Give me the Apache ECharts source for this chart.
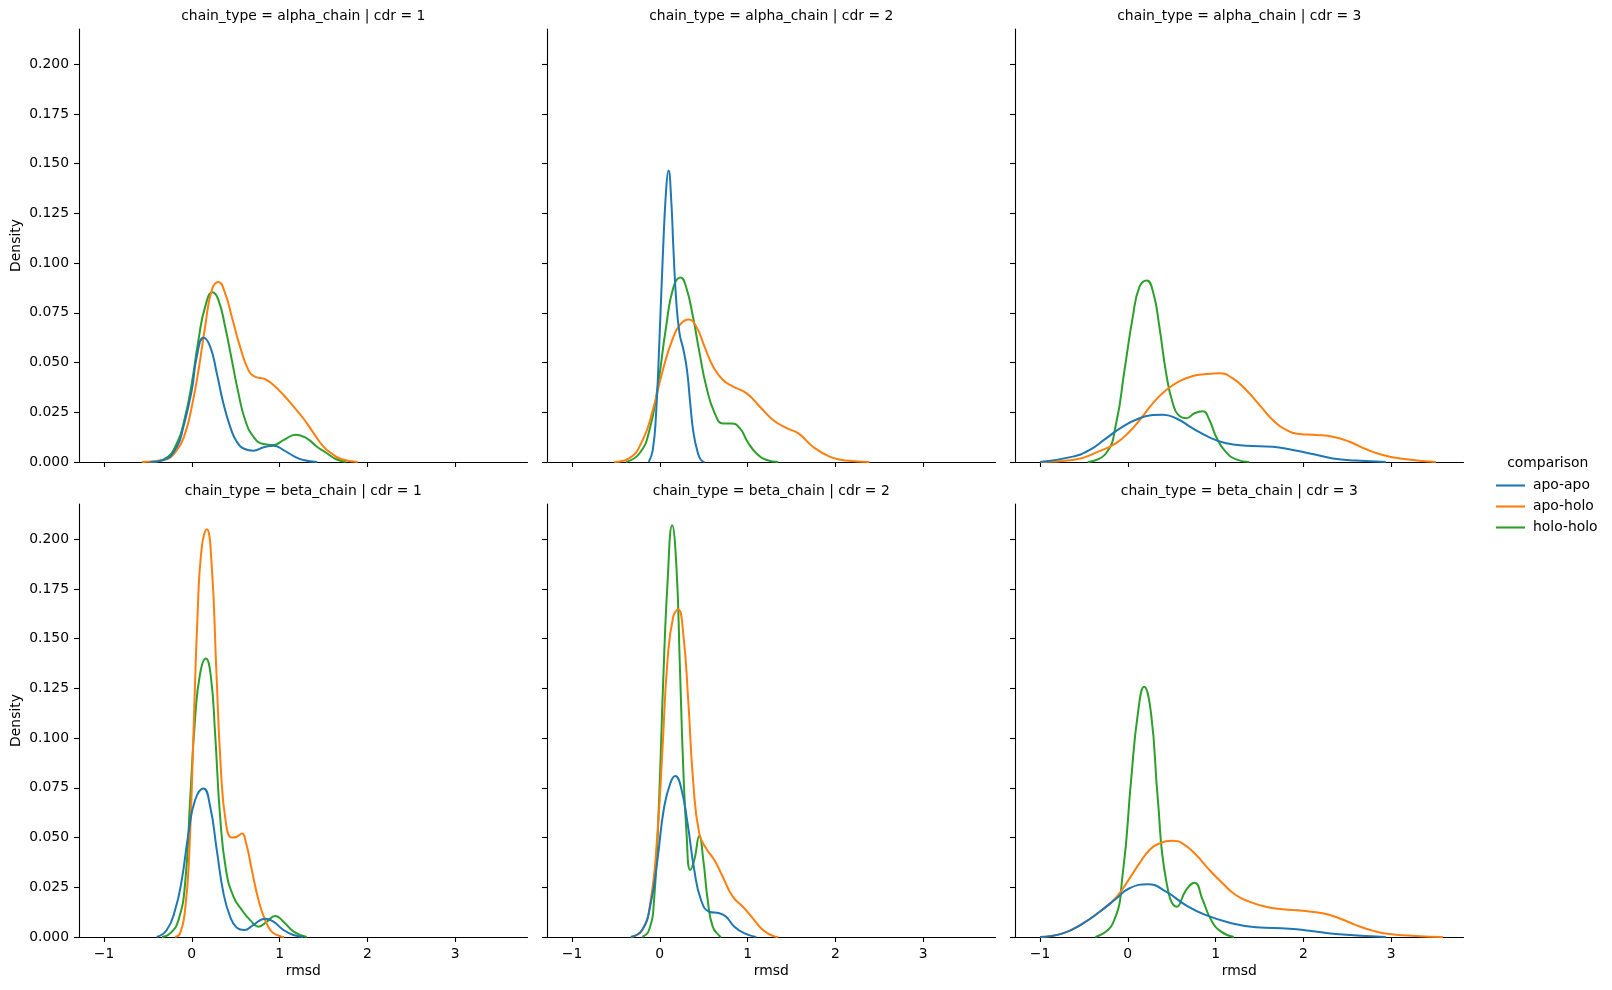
<!DOCTYPE html>
<html>
<head>
<meta charset="utf-8">
<script src="https://cdn.jsdelivr.net/npm/echarts@6/dist/echarts.min.js"></script>
<style>
html,body{margin:0;padding:0;background:#fff;}
#chart{width:1612px;height:990px;}
</style>
</head>
<body>
<div id="chart"></div>
<script>
// ---------- categories ----------
const chainTypes = ['alpha_chain', 'beta_chain'];
const cdrs = [1, 2, 3];
const comparisons = ['apo-apo', 'apo-holo', 'holo-holo'];

// ---------- tick labels ----------
const xTicks = [-1, 0, 1, 2, 3];
const yTicks = [0, 0.025, 0.05, 0.075, 0.1, 0.125, 0.15, 0.175, 0.2];

// ---------- KDE curves: [rmsd, density] ----------
// alpha_chain, cdr 1
const alpha1_apoApo = [[-0.475,0],[-0.32,0.001],[-0.17,0.0077],[-0.095,0.0178],[0,0.036],[0.057,0.053],[0.133,0.0625],[0.21,0.058],[0.285,0.0446],[0.36,0.0295],[0.437,0.0178],[0.513,0.0102],[0.61,0.0064],[0.7,0.0057],[0.82,0.0074],[0.93,0.0082],[1.045,0.006],[1.16,0.003],[1.27,0.001],[1.43,0]];
const alpha1_apoHolo = [[-0.57,0],[-0.32,0.001],[-0.17,0.006],[-0.076,0.0144],[0,0.0278],[0.076,0.046],[0.152,0.068],[0.228,0.0865],[0.304,0.0905],[0.38,0.0848],[0.456,0.073],[0.55,0.058],[0.646,0.0462],[0.72,0.0429],[0.836,0.0416],[0.93,0.0387],[1.045,0.0337],[1.16,0.0278],[1.27,0.022],[1.39,0.0144],[1.5,0.0077],[1.58,0.0047],[1.7,0.0015],[1.89,0]];
const alpha1_holoHolo = [[-0.475,0],[-0.32,0.0013],[-0.17,0.0094],[-0.076,0.0228],[0,0.0395],[0.076,0.0613],[0.152,0.078],[0.236,0.0853],[0.304,0.0814],[0.38,0.068],[0.456,0.0513],[0.532,0.0345],[0.608,0.0211],[0.703,0.0127],[0.817,0.009],[0.93,0.0085],[1.045,0.011],[1.186,0.0137],[1.31,0.0119],[1.426,0.0077],[1.54,0.0044],[1.64,0.0015],[1.76,0]];
// alpha_chain, cdr 2
const alpha2_apoApo = [[-0.126,0],[-0.08,0.006],[-0.042,0.0245],[-0.004,0.0613],[0.034,0.103],[0.0725,0.137],[0.1,0.1465],[0.13,0.132],[0.156,0.1066],[0.187,0.0814],[0.225,0.0647],[0.27,0.0563],[0.31,0.0462],[0.347,0.0295],[0.385,0.0144],[0.435,0.0044],[0.47,0.001],[0.51,0]];
const alpha2_apoHolo = [[-0.52,0],[-0.35,0.0018],[-0.195,0.011],[-0.08,0.026],[0.034,0.046],[0.149,0.0622],[0.244,0.0697],[0.328,0.0717],[0.416,0.068],[0.51,0.058],[0.607,0.048],[0.72,0.0412],[0.836,0.0379],[0.99,0.0345],[1.14,0.0278],[1.294,0.021],[1.447,0.017],[1.58,0.0144],[1.745,0.0077],[1.935,0.0027],[2.12,0.0007],[2.39,0]];
const alpha2_holoHolo = [[-0.385,0],[-0.23,0.0044],[-0.118,0.016],[-0.023,0.0379],[0.072,0.068],[0.156,0.088],[0.237,0.0927],[0.3,0.088],[0.378,0.073],[0.454,0.0546],[0.53,0.0379],[0.626,0.0245],[0.72,0.0194],[0.817,0.0194],[0.912,0.017],[1.0,0.0102],[1.1,0.0044],[1.218,0.001],[1.35,0]];
// alpha_chain, cdr 3
const alpha3_apoApo = [[-1.0,0],[-0.627,0.0027],[-0.437,0.006],[-0.247,0.0119],[-0.057,0.0178],[0.133,0.022],[0.285,0.0236],[0.4,0.0238],[0.55,0.022],[0.74,0.0169],[0.93,0.0124],[1.12,0.0094],[1.348,0.0082],[1.652,0.0077],[1.88,0.006],[2.108,0.004],[2.336,0.0018],[2.6,0.0007],[2.94,0]];
const alpha3_apoHolo = [[-1.0,0],[-0.627,0.001],[-0.32,0.0055],[-0.133,0.0095],[0.019,0.0152],[0.152,0.022],[0.285,0.0295],[0.437,0.0362],[0.589,0.0407],[0.74,0.0432],[0.892,0.0442],[1.044,0.0446],[1.196,0.042],[1.348,0.0362],[1.5,0.0287],[1.652,0.0211],[1.804,0.0161],[1.956,0.0141],[2.146,0.0136],[2.336,0.0127],[2.526,0.0102],[2.716,0.0064],[2.905,0.0035],[3.1,0.0018],[3.51,0]];
const alpha3_holoHolo = [[-0.456,0],[-0.247,0.0044],[-0.133,0.0194],[-0.038,0.046],[0.057,0.073],[0.133,0.088],[0.216,0.0912],[0.292,0.0848],[0.36,0.068],[0.437,0.0446],[0.513,0.0295],[0.589,0.0231],[0.665,0.022],[0.76,0.0245],[0.855,0.0255],[0.93,0.0211],[1.006,0.0127],[1.1,0.006],[1.234,0.0013],[1.386,0]];
// beta_chain, cdr 1
const beta1_apoApo = [[-0.4,0],[-0.285,0.0035],[-0.19,0.0136],[-0.114,0.0287],[-0.038,0.052],[0.038,0.0689],[0.133,0.0747],[0.21,0.0655],[0.285,0.0437],[0.361,0.022],[0.437,0.0102],[0.513,0.0047],[0.6,0.0035],[0.7,0.006],[0.836,0.0092],[0.93,0.0077],[1.045,0.0035],[1.16,0.001],[1.27,0]];
const beta1_apoHolo = [[-0.19,0],[-0.133,0.0018],[-0.076,0.0136],[-0.027,0.0437],[0.019,0.102],[0.065,0.161],[0.114,0.196],[0.171,0.205],[0.228,0.186],[0.278,0.136],[0.33,0.0856],[0.39,0.057],[0.456,0.05],[0.513,0.0504],[0.57,0.052],[0.62,0.047],[0.684,0.0337],[0.76,0.0186],[0.836,0.0085],[0.91,0.0027],[1.0,0.0005],[1.05,0]];
const beta1_holoHolo = [[-0.34,0],[-0.247,0.0018],[-0.152,0.0085],[-0.076,0.027],[-0.019,0.0689],[0.038,0.11],[0.095,0.1325],[0.16,0.14],[0.217,0.131],[0.266,0.102],[0.323,0.0605],[0.39,0.0337],[0.475,0.0203],[0.57,0.0136],[0.665,0.0085],[0.76,0.0052],[0.855,0.0077],[0.95,0.0106],[1.045,0.0077],[1.16,0.0027],[1.31,0]];
// beta_chain, cdr 2
const beta2_apoApo = [[-0.33,0],[-0.2,0.0035],[-0.103,0.017],[-0.027,0.0387],[0.05,0.0655],[0.126,0.078],[0.176,0.081],[0.24,0.0756],[0.317,0.057],[0.393,0.0337],[0.47,0.0186],[0.565,0.0127],[0.68,0.0119],[0.756,0.0102],[0.85,0.0052],[0.966,0.0018],[1.1,0]];
const beta2_apoHolo = [[-0.33,0],[-0.2,0.0035],[-0.103,0.0186],[-0.027,0.052],[0.03,0.094],[0.088,0.139],[0.153,0.161],[0.21,0.1647],[0.267,0.1526],[0.324,0.119],[0.382,0.0772],[0.45,0.052],[0.527,0.0446],[0.622,0.0387],[0.717,0.0303],[0.832,0.0203],[0.947,0.0152],[1.06,0.0094],[1.176,0.0035],[1.29,0.0005],[1.35,0]];
const beta2_holoHolo = [[-0.2,0],[-0.122,0.0035],[-0.065,0.0186],[-0.008,0.0689],[0.038,0.1275],[0.088,0.178],[0.141,0.207],[0.19,0.186],[0.229,0.136],[0.267,0.0856],[0.305,0.052],[0.347,0.0337],[0.393,0.0387],[0.45,0.0508],[0.496,0.0387],[0.546,0.0186],[0.603,0.0052],[0.68,0.0005],[0.7,0]];
// beta_chain, cdr 3
const beta3_apoApo = [[-1.0,0],[-0.74,0.0018],[-0.51,0.0069],[-0.32,0.0127],[-0.13,0.0194],[0.02,0.0245],[0.228,0.0265],[0.436,0.0228],[0.664,0.0159],[0.89,0.011],[1.16,0.0072],[1.46,0.0049],[1.84,0.0042],[2.07,0.0032],[2.37,0.0015],[2.94,0]];
const beta3_apoHolo = [[-1.0,0],[-0.74,0.0018],[-0.51,0.0069],[-0.32,0.0127],[-0.13,0.02],[0.02,0.0295],[0.133,0.037],[0.247,0.0437],[0.36,0.047],[0.505,0.0484],[0.626,0.047],[0.78,0.0412],[0.93,0.0337],[1.08,0.027],[1.23,0.0211],[1.385,0.0178],[1.575,0.0152],[1.765,0.014],[1.99,0.0132],[2.22,0.0119],[2.41,0.0094],[2.6,0.006],[2.79,0.0032],[2.98,0.0015],[3.28,0.0005],[3.59,0]];
const beta3_holoHolo = [[-0.37,0],[-0.17,0.0069],[-0.057,0.032],[0.038,0.079],[0.114,0.112],[0.186,0.1258],[0.266,0.112],[0.34,0.0705],[0.436,0.0287],[0.56,0.0152],[0.664,0.0236],[0.76,0.0273],[0.854,0.0186],[0.95,0.0085],[1.063,0.0027],[1.21,0]];

const panelData = {
  alpha_chain: {1: [alpha1_apoApo, alpha1_apoHolo, alpha1_holoHolo],
                2: [alpha2_apoApo, alpha2_apoHolo, alpha2_holoHolo],
                3: [alpha3_apoApo, alpha3_apoHolo, alpha3_holoHolo]},
  beta_chain:  {1: [beta1_apoApo, beta1_apoHolo, beta1_holoHolo],
                2: [beta2_apoApo, beta2_apoHolo, beta2_holoHolo],
                3: [beta3_apoApo, beta3_apoHolo, beta3_holoHolo]}
};

// ---------- layout / style ----------
const colors = ['#1f77b4', '#ff7f0e', '#2ca02c'];
const FONT = 'DejaVu Sans';
const FS = 13.9;
const colLeft = [79, 547, 1015];
const rowTop = [29, 504];
const W = 448.5, H = 433;
const X_MIN = -1.285, X_MAX = 3.825, Y_MAX = 0.2177;

const grids = [], xAxes = [], yAxes = [], series = [], graphics = [];
let gi = 0;
chainTypes.forEach((ct, r) => {
  cdrs.forEach((cdr, c) => {
    grids.push({left: colLeft[c], top: rowTop[r], width: W, height: H, containLabel: false});
    const axisLineStyle = {color: '#000', width: 1.1};
    xAxes.push({
      type: 'value', gridIndex: gi, min: X_MIN, max: X_MAX,
      splitLine: {show: false},
      axisLine: {show: true, onZero: false, lineStyle: axisLineStyle},
      axisTick: {show: true, length: 5, customValues: xTicks, lineStyle: axisLineStyle},
      axisLabel: {show: r === 1, customValues: xTicks, margin: 10, color: '#000',
                  fontFamily: FONT, fontSize: FS,
                  formatter: v => v < 0 ? '\u2212' + Math.abs(v) : String(v)}
    });
    yAxes.push({
      type: 'value', gridIndex: gi, min: 0, max: Y_MAX,
      splitLine: {show: false},
      axisLine: {show: true, onZero: false, lineStyle: axisLineStyle},
      axisTick: {show: true, length: 5, customValues: yTicks, lineStyle: axisLineStyle},
      axisLabel: {show: c === 0, customValues: yTicks, margin: 10, color: '#000',
                  fontFamily: FONT, fontSize: FS, formatter: v => v.toFixed(3)}
    });
    // draw in reverse hue order so apo-apo ends on top
    for (let k = comparisons.length - 1; k >= 0; k--) {
      series.push({
        name: comparisons[k], type: 'line', xAxisIndex: gi, yAxisIndex: gi,
        data: panelData[ct][cdr][k], symbol: 'none', showSymbol: false,
        smooth: 0.5, legendIcon: 'rect',
        lineStyle: {color: colors[k], width: 2}, itemStyle: {color: colors[k]},
        silent: true, animation: false
      });
    }
    // facet title
    graphics.push({type: 'text', x: colLeft[c] + W / 2, y: rowTop[r] - 13,
      style: {text: 'chain_type = ' + ct + ' | cdr = ' + cdr, font: FS + 'px "' + FONT + '"',
              fill: '#000', align: 'center', verticalAlign: 'middle'}});
    if (c === 0) {
      graphics.push({type: 'text', x: 16, y: rowTop[r] + H / 2, rotation: Math.PI / 2,
        style: {text: 'Density', font: FS + 'px "' + FONT + '"', fill: '#000',
                align: 'center', verticalAlign: 'middle'}});
    }
    if (r === 1) {
      graphics.push({type: 'text', x: colLeft[c] + W / 2, y: 971.7,
        style: {text: 'rmsd', font: FS + 'px "' + FONT + '"', fill: '#000',
                align: 'center', verticalAlign: 'middle'}});
    }
    gi++;
  });
});

graphics.push({type: 'text', x: 1547.7, y: 463.5,
  style: {text: 'comparison', font: FS + 'px "' + FONT + '"', fill: '#000',
          align: 'center', verticalAlign: 'middle'}});

const chart = echarts.init(document.getElementById('chart'), null, {renderer: 'canvas'});
chart.setOption({
  animation: false,
  backgroundColor: '#fff',
  grid: grids,
  xAxis: xAxes,
  yAxis: yAxes,
  series: series,
  legend: {
    data: comparisons, orient: 'vertical', left: 1496, top: 478.5, padding: 0,
    icon: 'rect', itemWidth: 29, itemHeight: 2.1, itemGap: 7.0, selectedMode: false,
    textStyle: {fontFamily: FONT, fontSize: FS, color: '#000', padding: [0, 0, 0, 3]}
  },
  graphic: graphics
});
</script>
</body>
</html>
